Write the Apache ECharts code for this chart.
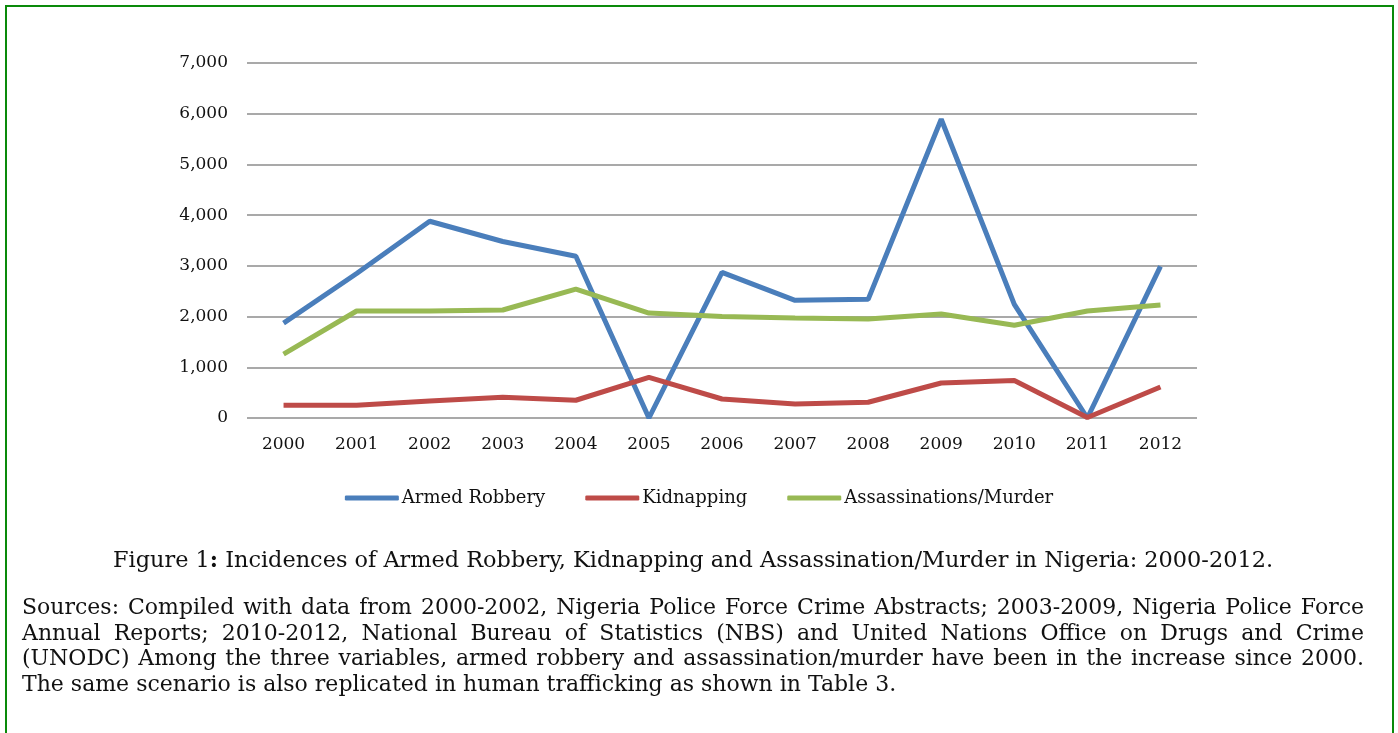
<!DOCTYPE html>
<html>
<head>
<meta charset="utf-8">
<script src="https://cdn.jsdelivr.net/npm/echarts@6/dist/echarts.min.js"></script>
<style>
  html, body { margin: 0; padding: 0; background: #fff; }
  #frame {
    position: absolute; left: 5px; top: 5px; width: 1389px; height: 740px;
    border: 2px solid #0a8a0a; box-sizing: border-box;
  }
  #main { position: absolute; left: 0; top: 0; width: 1398px; height: 733px; }
  #caption {
    position: absolute; left: 0; width: 1386px; top: 546px;
    text-align: center; font-family: "DejaVu Serif", serif; font-size: 22.4px; color: #111;
    white-space: nowrap;
  }
  #sources {
    position: absolute; left: 22px; width: 1342px; top: 594px;
    font-family: "DejaVu Serif", serif; font-size: 22px; color: #111;
  }
  #sources div { height: 25.7px; line-height: 25.7px; white-space: nowrap; }
  #sources div.j { text-align: justify; text-align-last: justify; }
</style>
</head>
<body>
<div id="frame"></div>
<div id="main"></div>
<div id="caption">Figure 1<b>:</b> Incidences of Armed Robbery, Kidnapping and Assassination/Murder in Nigeria: 2000-2012.</div>
<div id="sources">
  <div class="j">Sources: Compiled with data from 2000-2002, Nigeria Police Force Crime Abstracts; 2003-2009, Nigeria Police Force</div>
  <div class="j">Annual Reports; 2010-2012, National Bureau of Statistics (NBS) and United Nations Office on Drugs and Crime</div>
  <div class="j">(UNODC) Among the three variables, armed robbery and assassination/murder have been in the increase since 2000.</div>
  <div>The same scenario is also replicated in human trafficking as shown in Table 3.</div>
</div>
<script>
var years = ['2000','2001','2002','2003','2004','2005','2006','2007','2008','2009','2010','2011','2012'];
var armedRobbery = [1870, 2850, 3880, 3480, 3190, 0, 2870, 2320, 2340, 5890, 2240, 0, 2990];
var kidnapping = [250, 250, 335, 410, 350, 800, 375, 275, 310, 690, 740, 10, 610];
var murder = [1260, 2110, 2110, 2130, 2540, 2070, 2000, 1970, 1950, 2050, 1830, 2110, 2230];

var chart = echarts.init(document.getElementById('main'));
var font = '"DejaVu Serif", serif';

function line(name, data, color) {
  return {
    name: name,
    type: 'line',
    data: data,
    showSymbol: false,
    symbol: 'none',
    lineStyle: { width: 5, color: color },
    itemStyle: { color: color }
  };
}

var option = {
  animation: false,
  grid: { left: 247, right: 201, top: 63, bottom: 315 },
  legend: {
    top: 484,
    left: 'center',
    itemWidth: 54,
    itemHeight: 5,
    itemGap: 40,
    icon: 'roundRect',
    textStyle: { fontFamily: font, fontSize: 18, color: '#111', padding: [0, 0, 0, -2] },
    data: ['Armed Robbery', 'Kidnapping', 'Assassinations/Murder']
  },
  xAxis: {
    type: 'category',
    data: years,
    boundaryGap: true,
    axisLine: { show: false },
    axisTick: { show: false },
    axisLabel: { fontFamily: font, fontSize: 17, color: '#111', margin: 18 }
  },
  yAxis: {
    type: 'value',
    min: 0,
    max: 7000,
    interval: 1000,
    axisLine: { show: false },
    axisTick: { show: false },
    axisLabel: {
      fontFamily: font, fontSize: 17, color: '#111', margin: 19,
      formatter: function (v) { return v.toLocaleString('en-US'); }
    },
    splitLine: { lineStyle: { color: '#8c8c8c', width: 1.5 } }
  },
  series: [
    line('Armed Robbery', armedRobbery, '#4a7ebb'),
    line('Kidnapping', kidnapping, '#be4b48'),
    line('Assassinations/Murder', murder, '#98b954')
  ]
};
chart.setOption(option);
</script>
</body>
</html>
